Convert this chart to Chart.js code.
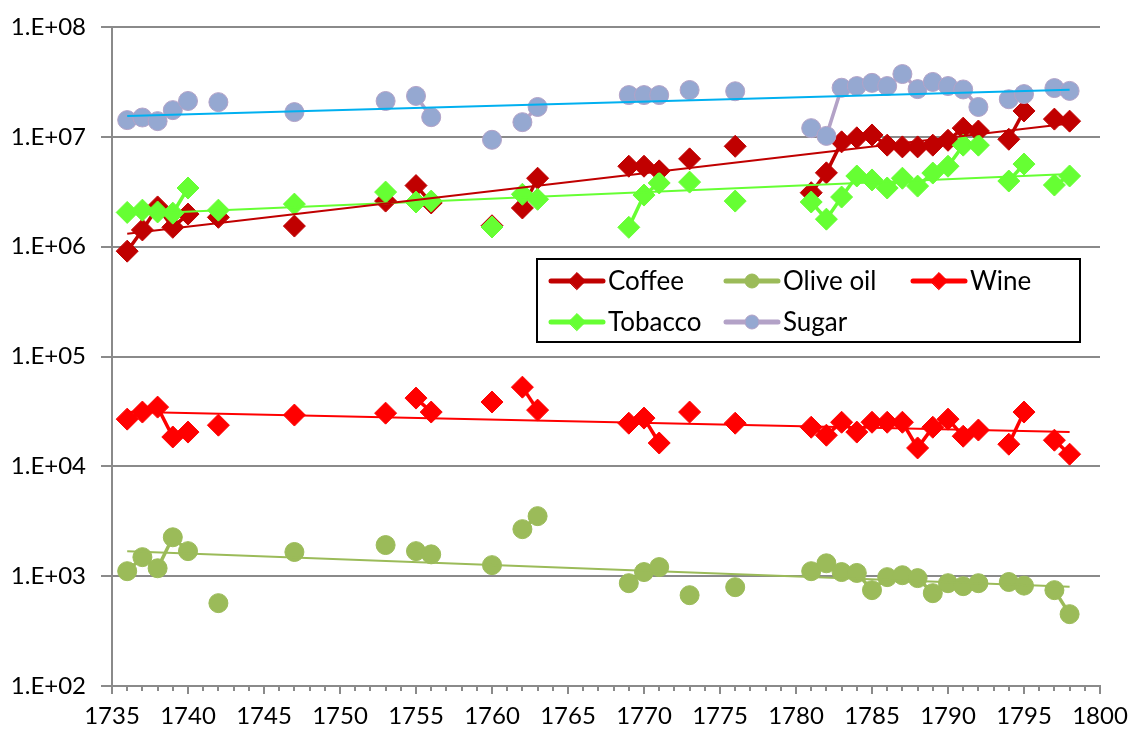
<!DOCTYPE html>
<html>
<head>
<meta charset="utf-8">
<script src="https://cdn.jsdelivr.net/npm/chart.js@4.4.1/dist/chart.umd.min.js"></script>
<style>
  html, body { margin: 0; padding: 0; background: #fff; }
  #wrap { position: relative; width: 1129px; height: 731px; }
</style>
</head>
<body>
<div id="wrap"><canvas id="chart" width="1129" height="731"></canvas></div>
<script>
// years with observations (missing years break the lines)
const years = [1736, 1737, 1738, 1739, 1740, 1742, 1747, 1753, 1755, 1756,
  1760, 1762, 1763, 1769, 1770, 1771, 1773, 1776,
  1781, 1782, 1783, 1784, 1785, 1786, 1787, 1788, 1789, 1790, 1791, 1792,
  1794, 1795, 1797, 1798];

const coffee = [9.1e5, 1.42e6, 2.3e6, 1.5e6, 1.98e6, 1.85e6, 1.54e6, 2.6e6, 3.6e6, 2.5e6,
  1.55e6, 2.25e6, 4.2e6, 5.4e6, 5.4e6, 4.9e6, 6.3e6, 8.2e6,
  3.1e6, 4.7e6, 9.0e6, 9.8e6, 1.04e7, 8.4e6, 8.1e6, 8.1e6, 8.4e6, 9.3e6, 1.2e7, 1.13e7,
  9.5e6, 1.72e7, 1.45e7, 1.39e7];

const oliveOil = [1110, 1490, 1180, 2260, 1690, 568, 1660, 1920, 1690, 1580,
  1260, 2680, 3520, 863, 1090, 1210, 671, 794,
  1110, 1310, 1090, 1070, 746, 980, 1020, 960, 700, 863, 811, 863,
  885, 820, 746, 451];

const wine = [26900, 31200, 34600, 18500, 20500, 23700, 29300, 30500, 41800, 31200,
  38500, 52600, 32500, 24700, 27500, 16300, 31200, 24700,
  22700, 19200, 25200, 20500, 25200, 25200, 25200, 14700, 22700, 26900, 18800, 21400,
  15900, 31200, 17300, 12900];

const tobacco = [2.05e6, 2.15e6, 2.07e6, 2.02e6, 3.42e6, 2.15e6, 2.44e6, 3.14e6, 2.55e6, 2.6e6,
  1.51e6, 3.0e6, 2.7e6, 1.5e6, 2.95e6, 3.8e6, 3.87e6, 2.6e6,
  2.55e6, 1.78e6, 2.83e6, 4.4e6, 4.05e6, 3.42e6, 4.2e6, 3.56e6, 4.68e6, 5.4e6, 8.4e6, 8.4e6,
  3.96e6, 5.65e6, 3.64e6, 4.4e6];

const sugar = [1.42e7, 1.5e7, 1.39e7, 1.75e7, 2.12e7, 2.07e7, 1.68e7, 2.12e7, 2.36e7, 1.51e7,
  9.4e6, 1.36e7, 1.87e7, 2.4e7, 2.4e7, 2.4e7, 2.67e7, 2.6e7,
  1.2e7, 1.02e7, 2.8e7, 2.9e7, 3.1e7, 2.9e7, 3.73e7, 2.72e7, 3.16e7, 2.9e7, 2.7e7, 1.87e7,
  2.2e7, 2.45e7, 2.78e7, 2.62e7];

const yearMin = 1735, yearMax = 1800;
const powers = [2, 3, 4, 5, 6, 7, 8];

const gridColor = '#8a8a8a';
const font = { family: 'Lato, "Open Sans", sans-serif', size: 24 };

const series = [
  { label: 'Coffee', values: coffee, color: '#C00000', fill: '#C00000', trend: '#C00000', style: 'rectRot', r: 11 },
  { label: 'Olive oil', values: oliveOil, color: '#9BBB59', fill: '#9BBB59', trend: '#9BBB59', style: 'circle', r: 9.5 },
  { label: 'Wine', values: wine, color: '#FF0000', fill: '#FF0000', trend: '#FF0000', style: 'rectRot', r: 11 },
  { label: 'Tobacco', values: tobacco, color: '#66FF33', fill: '#66FF33', trend: '#66FF33', style: 'rectRot', r: 11 },
  { label: 'Sugar', values: sugar, color: '#B3A2C7', fill: '#95A8D1', trend: '#00B0F0', style: 'circle', r: 9.5 }
];

// exponential trend (straight line on the log axis), fitted to the data
function trendPoints(values) {
  const lx = years, ly = values.map(v => Math.log10(v));
  const n = lx.length;
  const mx = lx.reduce((a, b) => a + b, 0) / n;
  const my = ly.reduce((a, b) => a + b, 0) / n;
  let sxy = 0, sxx = 0;
  for (let i = 0; i < n; i++) {
    sxy += (lx[i] - mx) * (ly[i] - my);
    sxx += (lx[i] - mx) * (lx[i] - mx);
  }
  const b = sxy / sxx, a = my - b * mx;
  return [lx[0], lx[n - 1]].map(x => ({ x: x, y: Math.pow(10, a + b * x) }));
}

const datasets = [];
series.forEach((s, i) => {
  datasets.push({
    label: s.label,
    data: years.map((yr, k) => ({ x: yr, y: s.values[k] })),
    borderColor: s.color,
    backgroundColor: s.fill,
    borderWidth: 3.5,
    pointStyle: s.style,
    pointRadius: s.r,
    pointBackgroundColor: s.fill,
    pointBorderColor: s.style === 'circle' ? s.color : s.fill,
    pointBorderWidth: 1,
    order: 10 - i,
    segment: {
      borderColor: c => (c.p1.parsed.x - c.p0.parsed.x > 1 ? 'rgba(0,0,0,0)' : undefined)
    }
  });
});
series.forEach(s => {
  datasets.push({
    label: s.label + ' trend',
    data: trendPoints(s.values),
    borderColor: s.trend,
    borderWidth: 2,
    pointRadius: 0,
    order: 0
  });
});

// legend box and minor ticks on the year axis
const extras = {
  id: 'extras',
  afterDraw(chart) {
    const ctx = chart.ctx;
    const xs = chart.scales.x;
    const bottom = chart.chartArea.bottom;
    ctx.save();
    ctx.strokeStyle = gridColor;
    ctx.lineWidth = 2;
    for (let yr = yearMin + 1; yr < yearMax; yr++) {
      if (yr % 5 === 0) continue;
      const px = Math.round(xs.getPixelForValue(yr));
      ctx.beginPath();
      ctx.moveTo(px, bottom);
      ctx.lineTo(px, bottom + 5);
      ctx.stroke();
    }

    const box = { left: 537, top: 259, right: 1080, bottom: 342 };
    ctx.fillStyle = '#fff';
    ctx.fillRect(box.left, box.top, box.right - box.left, box.bottom - box.top);
    ctx.strokeStyle = '#000';
    ctx.lineWidth = 2;
    ctx.strokeRect(box.left, box.top, box.right - box.left, box.bottom - box.top);

    const cols = [577, 752, 939], rows = [281, 322];
    ctx.font = '26px ' + font.family;
    ctx.textBaseline = 'middle';
    ctx.textAlign = 'left';
    series.forEach((s, i) => {
      const cx = cols[i % 3], cy = rows[Math.floor(i / 3)];
      ctx.strokeStyle = s.color;
      ctx.lineWidth = 5;
      ctx.lineCap = 'round';
      ctx.beginPath();
      ctx.moveTo(cx - 26, cy);
      ctx.lineTo(cx + 26, cy);
      ctx.stroke();
      ctx.fillStyle = s.fill;
      ctx.strokeStyle = s.style === 'circle' ? s.color : s.fill;
      ctx.lineWidth = 1;
      Chart.helpers.drawPoint(ctx, { pointStyle: s.style, radius: s.style === 'circle' ? 7 : 8.5, borderWidth: 1, rotation: 0 }, cx, cy);
      ctx.fillStyle = '#000';
      ctx.fillText(s.label, cx + 31, cy + 1);
    });
    ctx.restore();
  }
};

new Chart(document.getElementById('chart'), {
  type: 'line',
  data: { datasets: datasets },
  plugins: [extras],
  options: {
    responsive: false,
    animation: false,
    layout: { padding: { top: 27, right: 29, left: 0, bottom: 0 } },
    plugins: { legend: { display: false }, tooltip: { enabled: false } },
    elements: { line: { tension: 0 } },
    scales: {
      x: {
        type: 'linear',
        min: yearMin,
        max: yearMax,
        afterFit: s => { s.height = 45; s.paddingLeft = 0; s.paddingRight = 0; },
        ticks: {
          stepSize: 5,
          color: '#000',
          font: font,
          padding: 8,
          maxRotation: 0,
          callback: v => String(v)
        },
        grid: { drawOnChartArea: false, color: gridColor, lineWidth: 2, tickLength: 8 },
        border: { color: gridColor, width: 2 }
      },
      y: {
        type: 'logarithmic',
        min: 100,
        max: 1e8,
        afterFit: s => { s.width = 112; s.paddingTop = 0; s.paddingBottom = 0; },
        afterBuildTicks: s => { s.ticks = powers.map(p => ({ value: Math.pow(10, p) })); },
        ticks: {
          color: '#000',
          font: font,
          padding: 15,
          callback: v => '1.E+' + String(Math.round(Math.log10(v))).padStart(2, '0')
        },
        grid: { color: gridColor, lineWidth: 2, tickLength: 11 },
        border: { color: gridColor, width: 2 }
      }
    }
  }
});
</script>
</body>
</html>
